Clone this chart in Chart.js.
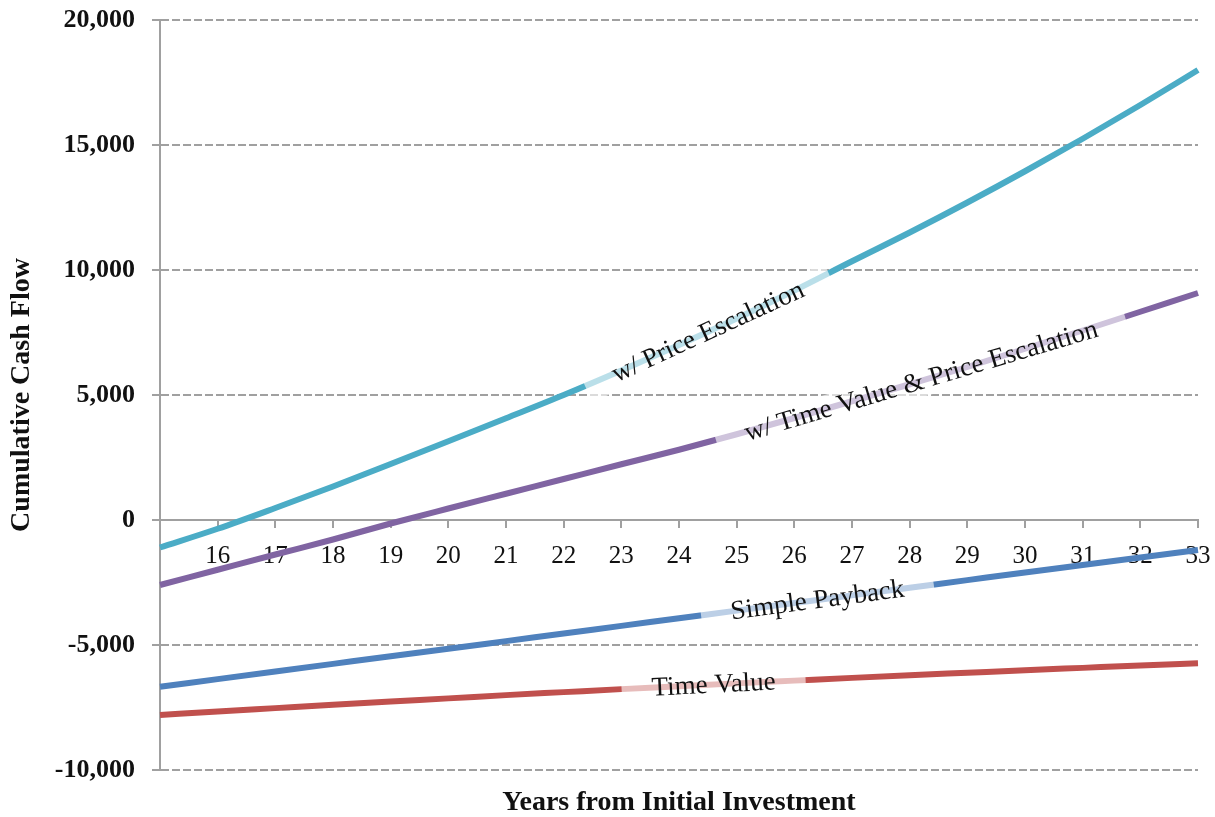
<!DOCTYPE html>
<html>
<head>
<meta charset="utf-8">
<script src="https://cdn.jsdelivr.net/npm/chart.js@4/dist/chart.umd.min.js"></script>
<style>
  html, body { margin: 0; padding: 0; background: #ffffff; }
  #wrap { width: 1215px; height: 817px; }
</style>
</head>
<body>
<div id="wrap"><canvas id="c" width="1215" height="817"></canvas></div>
<script>
// ---- data ----
const years = ['15','16','17','18','19','20','21','22','23','24','25','26','27','28','29','30','31','32','33'];
const priceEscalation   = [-1100, -350, 480, 1340, 2240, 3150, 4070, 5000, 5980, 7000, 8060, 9180, 10350, 11500, 12700, 13950, 15250, 16600, 18000];
const timeValuePriceEsc = [-2600, -1990, -1380, -780, -140, 460, 1050, 1640, 2230, 2810, 3430, 4080, 4750, 5430, 6120, 6850, 7580, 8330, 9080];
const simplePayback     = [-6670, -6365, -6060, -5755, -5450, -5150, -4845, -4540, -4235, -3930, -3625, -3320, -3015, -2710, -2405, -2100, -1800, -1500, -1200];
const timeValue         = [-7800, -7660, -7525, -7390, -7260, -7135, -7005, -6885, -6765, -6650, -6535, -6425, -6315, -6210, -6110, -6010, -5915, -5820, -5730];

const seriesNames  = ['w/ Price Escalation', 'w/ Time Value & Price Escalation', 'Simple Payback', 'Time Value'];
const seriesColors = ['#4BACC6', '#8064A2', '#4F81BD', '#C0504D'];
// year at which each in-line label is centred
const labelYears   = [24.5, 28.2, 26.4, 24.6];

const yTitle = 'Cumulative Cash Flow';
const xTitle = 'Years from Initial Investment';

const FONT = '"Liberation Serif", "Times New Roman", serif';

const lineLabelPlugin = {
  id: 'lineLabels',
  afterDatasetsDraw(chart) {
    const { ctx } = chart;
    const xs = chart.scales.x, ys = chart.scales.y;
    const first = Number(years[0]);
    chart.data.datasets.forEach((ds, di) => {
      const vals = ds.data;
      const valAt = (idx) => {
        let i0 = Math.floor(idx);
        if (i0 >= vals.length - 1) i0 = vals.length - 2;
        const f = idx - i0;
        return vals[i0] * (1 - f) + vals[i0 + 1] * f;
      };
      const idx = labelYears[di] - first;
      const px = xs.getPixelForValue(idx);
      const py = ys.getPixelForValue(valAt(idx));
      const ax = xs.getPixelForValue(idx - 0.4), ay = ys.getPixelForValue(valAt(idx - 0.4));
      const bx = xs.getPixelForValue(idx + 0.4), by = ys.getPixelForValue(valAt(idx + 0.4));
      const ang = Math.atan2(by - ay, bx - ax);
      ctx.save();
      ctx.translate(px, py);
      ctx.rotate(ang);
      ctx.font = '27px ' + FONT;
      const w = ctx.measureText(ds.label).width;
      ctx.fillStyle = 'rgba(255,255,255,0.62)';
      ctx.fillRect(-w / 2 - 30, 1 - 15, w + 60, 30);
      ctx.fillStyle = '#111';
      ctx.textAlign = 'center';
      ctx.textBaseline = 'middle';
      ctx.fillText(ds.label, 0, 1);
      ctx.restore();
    });
  }
};

const allSeries = [priceEscalation, timeValuePriceEsc, simplePayback, timeValue];

new Chart(document.getElementById('c'), {
  type: 'line',
  data: {
    labels: years,
    datasets: allSeries.map((d, i) => ({
      label: seriesNames[i],
      data: d,
      borderColor: seriesColors[i],
      backgroundColor: seriesColors[i],
      borderWidth: 6,
      pointRadius: 0,
      pointHoverRadius: 0,
      cubicInterpolationMode: 'monotone',
      borderCapStyle: 'butt',
      fill: false
    }))
  },
  options: {
    responsive: false,
    animation: false,
    devicePixelRatio: 1,
    layout: { padding: { left: 0, right: 17, top: 20, bottom: 0 } },
    plugins: {
      legend: { display: false },
      tooltip: { enabled: false }
    },
    scales: {
      x: {
        type: 'category',
        position: { y: 0 },
        offset: false,
        z: 1,
        grid: { drawOnChartArea: false, drawTicks: true, tickLength: 7, color: '#a0a0a0', lineWidth: 2 },
        border: { display: true, color: '#a0a0a0', width: 2 },
        ticks: {
          color: '#111',
          font: { family: FONT, size: 25 },
          padding: 14,
          maxRotation: 0,
          autoSkip: false,
          showLabelBackdrop: true,
          backdropColor: 'rgba(255,255,255,0.6)',
          backdropPadding: { x: 2, y: 0 },
          callback: (v, i) => (i === 0 ? '' : years[i])
        },
        afterFit: (s) => { s.paddingLeft = 0; s.paddingRight = 0; }
      },
      x2: {
        type: 'linear',
        position: 'bottom',
        min: Number(years[0]),
        max: Number(years[years.length - 1]),
        grid: { display: false },
        border: { display: false },
        ticks: { display: false },
        title: {
          display: true,
          text: xTitle,
          color: '#111',
          font: { family: FONT, size: 28, weight: 'bold', lineHeight: 1 },
          padding: 0
        },
        afterFit: (s) => { s.height = 47; s.paddingLeft = 0; s.paddingRight = 0; }
      },
      y: {
        min: -10000,
        max: 20000,
        ticks: {
          stepSize: 5000,
          color: '#111',
          font: { family: FONT, size: 26, weight: 'bold' },
          padding: 17
        },
        grid: { color: '#a0a0a0', lineWidth: 2, tickLength: 8 },
        border: { display: true, color: '#a0a0a0', width: 2, dash: [8, 3] },
        title: {
          display: true,
          text: yTitle,
          color: '#111',
          font: { family: FONT, size: 28, weight: 'bold' },
          padding: { top: 5, bottom: 0 }
        },
        afterFit: (s) => { s.width = 160; s.paddingTop = 0; s.paddingBottom = 0; }
      }
    }
  },
  plugins: [lineLabelPlugin]
});
</script>
</body>
</html>
